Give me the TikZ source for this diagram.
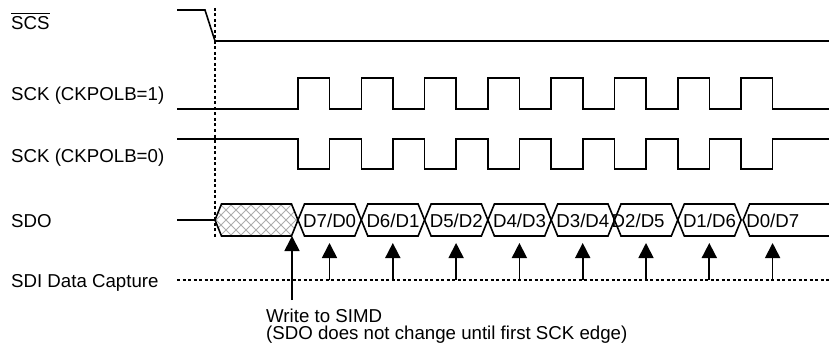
\documentclass[tikz,border=0pt]{standalone}
\usepackage{fontspec}
\setmainfont{Liberation Sans}
\usetikzlibrary{arrows.meta}
\newcommand{\barsig}[1]{{\setbox0\hbox{#1}\rlap{\raisebox{16pt}{\rule{\wd0}{1.4pt}}}#1}}
\tikzset{
  sig/.style={line width=1.6pt, line join=miter},
  dotline/.style={line width=1.5pt, dash pattern=on 3pt off 2.5pt},
  lbl/.style={anchor=base west, inner sep=0pt, font=\fontsize{18.67}{20}\selectfont},
  hatchline/.style={line width=0.8pt, draw=black!32},
  caparrow/.style={line width=1.7pt, -{Triangle[width=15pt,length=15pt]}},
}
\begin{document}
\begin{tikzpicture}[x=1pt,y=-1pt]
\useasboundingbox (0,0) rectangle (829,350);
% labels
\node[lbl] (lscs) at (11,30) {\barsig{SCS}};
\node[lbl] (lsck1) at (11,101) {SCK (CKPOLB=1)};
\node[lbl] (lsck0) at (11,162) {SCK (CKPOLB=0)};
\node[lbl] (lsdo) at (11,227) {SDO};
\node[lbl] (lsdi) at (11,287) {SDI Data Capture};
% reference dotted line
\draw[dotline] (215,8) -- (215,237);
% SCS
\draw[sig] (177,10) -- (205,10) -- (215,41) -- (829,41);
% SCK CKPOLB=1
\draw[sig] (177,109) \foreach \k in {0,...,7} { -- ({298+63.3*\k},109) -- ({298+63.3*\k},78) -- ({329.5+63.3*\k},78) -- ({329.5+63.3*\k},109) } -- (829,109);
% SCK CKPOLB=0
\draw[sig] (177,139) \foreach \k in {0,...,7} { -- ({298+63.3*\k},139) -- ({298+63.3*\k},169) -- ({329.5+63.3*\k},169) -- ({329.5+63.3*\k},139) } -- (829,139);
% SDO
\draw[sig] (177,220) -- (215,220);
\begin{scope}
  \clip (215,220) -- (221.5,204) -- (291.5,204) -- (298,220) -- (291.5,236) -- (221.5,236) -- cycle;
  \foreach \i in {-4,...,14} {
    \draw[hatchline] ({200+10*\i},236) -- ({232+10*\i},204);
    \draw[hatchline] ({200+10*\i},204) -- ({232+10*\i},236);
  }
\end{scope}
\draw[sig] (215,220) -- (221.5,204) -- (291.5,204) -- (298,220) -- (291.5,236) -- (221.5,236) -- cycle;
\foreach \k in {0,...,6} {
  \pgfmathsetmacro{\a}{298+63.3*\k}
  \pgfmathsetmacro{\b}{298+63.3*(\k+1)}
  \draw[sig] (\a,220) -- ({\a+6.5},204) -- ({\b-6.5},204) -- (\b,220) -- ({\b-6.5},236) -- ({\a+6.5},236) -- cycle;
}
\draw[sig] (829,204) -- (749.6,204) -- (743.1,220) -- (749.6,236) -- (829,236);
\node[lbl] (d0) at (303,227) {D7/D0};
\node[lbl] (d1) at (366.3,227) {D6/D1};
\node[lbl] (d2) at (429.6,227) {D5/D2};
\node[lbl] (d3) at (492.9,227) {D4/D3};
\node[lbl] (d4) at (556.2,227) {D3/D4};
\node[lbl] (d5) at (611.5,227) {D2/D5};
\node[lbl] (d6) at (682.8,227) {D1/D6};
\node[lbl] (d7) at (746.1,227) {D0/D7};
% SDI capture
\draw[dotline] (177,280) -- (829,280);
\foreach \k in {0,...,7} {
  \coordinate (cb\k) at ({329.5+63.3*\k},280);
  \coordinate (ct\k) at ({329.5+63.3*\k},243);
  \draw[caparrow] (cb\k) -- (ct\k);
}
% write arrow
\coordinate (wb) at (292,300);
\coordinate (wt) at (292,236);
\draw[caparrow] (wb) -- (wt);
\node[lbl] (note1) at (266,322) {Write to SIMD};
\node[lbl] (note2) at (266,339) {(SDO does not change until first SCK edge)};
\end{tikzpicture}
\end{document}
